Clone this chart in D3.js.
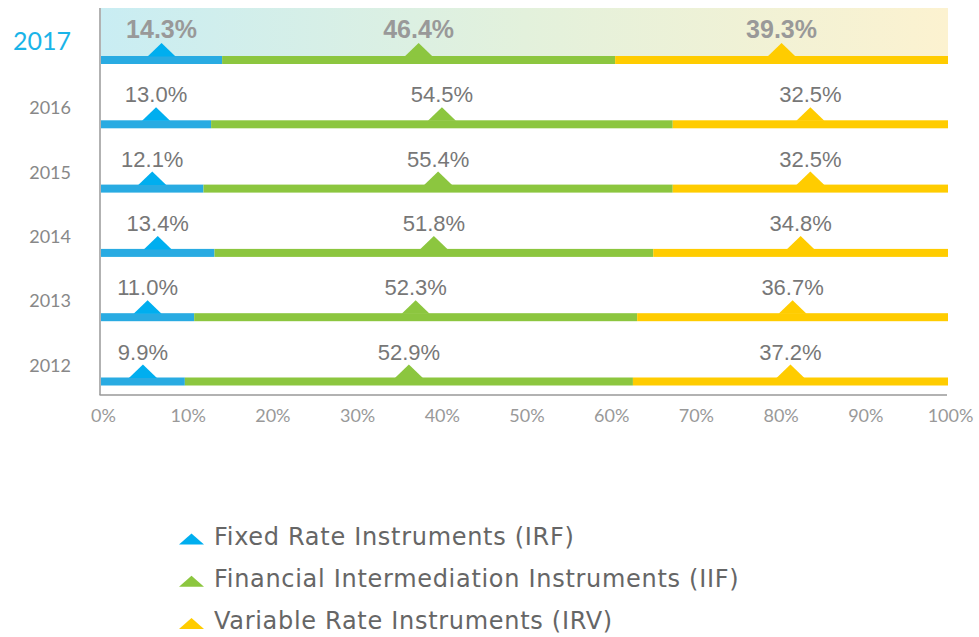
<!DOCTYPE html>
<html>
<head>
<meta charset="utf-8">
<script src="https://cdn.jsdelivr.net/npm/d3@7"></script>
<style>
  body { margin: 0; background: #fff; }
  svg { display: block; }
</style>
</head>
<body>
<div class="canvas"></div>
<script>
const years = ["2017", "2016", "2015", "2014", "2013", "2012"];
const irf = [14.3, 13.0, 12.1, 13.4, 11.0, 9.9];
const iif = [46.4, 54.5, 55.4, 51.8, 52.3, 52.9];
const irv = [39.3, 32.5, 32.5, 34.8, 36.7, 37.2];
const seriesNames = [
  "Fixed Rate Instruments (IRF)",
  "Financial Intermediation Instruments (IIF)",
  "Variable Rate Instruments (IRV)",
];
const ticks = [0, 10, 20, 30, 40, 50, 60, 70, 80, 90, 100];

const barColors = ["#29abe2", "#8cc63f", "#ffcc00"];
const triColors = ["#00aeef", "#8cc63f", "#ffcc00"];
const labelFont = "'Liberation Sans', Arial, sans-serif";
const gothic = "Lato, 'Noto Sans', sans-serif";
const legendFont = "'DejaVu Sans', sans-serif";

const width = 979, height = 637;
const svg = d3.select(".canvas").append("svg")
  .attr("width", width).attr("height", height);

const x = d3.scaleLinear().domain([0, 100]).range([101, 948]);
const y = d3.scalePoint().domain(years).range([60, 381.5]);
const barH = 8;

// rows: segments with start/end
const rows = years.map((yr, i) => {
  const vals = [irf[i], iif[i], irv[i]];
  let acc = 0;
  const segs = vals.map((v, k) => {
    const s = { year: yr, k: k, v: v, x0: acc, x1: acc + v };
    acc += v;
    return s;
  });
  return { year: yr, segs: segs, first: i === 0 };
});

// highlight band for latest year
const defs = svg.append("defs");
const grad = defs.append("linearGradient").attr("id", "band")
  .attr("x1", "0%").attr("x2", "100%").attr("y1", "0%").attr("y2", "0%");
grad.append("stop").attr("offset", "0%").attr("stop-color", "#c9edf3");
grad.append("stop").attr("offset", "50%").attr("stop-color", "#e3f1dc");
grad.append("stop").attr("offset", "100%").attr("stop-color", "#fcf2d0");

svg.append("rect")
  .attr("x", x(0)).attr("width", x(100) - x(0))
  .attr("y", 8).attr("height", y(years[0]) - barH / 2 - 8)
  .attr("fill", "url(#band)");

const g = svg.selectAll(".row").data(rows).join("g").attr("class", "row");

g.selectAll("rect.seg").data((d) => d.segs).join("rect")
  .attr("class", "seg")
  .attr("x", (d) => x(d.x0))
  .attr("width", (d) => x(d.x1) - x(d.x0))
  .attr("y", (d) => y(d.year) - barH / 2)
  .attr("height", barH)
  .attr("fill", (d) => barColors[d.k]);

g.selectAll("path.tri").data((d) => d.segs).join("path")
  .attr("class", "tri")
  .attr("d", (d) => {
    const cx = x((d.x0 + d.x1) / 2);
    const by = y(d.year) - barH / 2;
    return `M${cx - 14},${by + 0.5} L${cx},${by - 13} L${cx + 14},${by + 0.5} Z`;
  })
  .attr("fill", (d) => triColors[d.k]);

g.selectAll("text.val").data((d) => d.segs.map((s) => Object.assign({ first: d.first }, s))).join("text")
  .attr("class", "val")
  .attr("x", (d) => x((d.x0 + d.x1) / 2))
  .attr("y", (d) => y(d.year) - barH / 2 - 18)
  .attr("text-anchor", "middle")
  .style("font-family", labelFont)
  .style("font-size", (d) => (d.first ? "25px" : "22px"))
  .style("font-weight", (d) => (d.first ? 700 : 400))
  .attr("fill", (d) => (d.first ? "#999" : "#777"))
  .text((d) => d.v.toFixed(1) + "%");

// year labels
svg.selectAll("text.year").data(years).join("text")
  .attr("class", "year")
  .attr("x", 71)
  .attr("y", (d) => y(d) - 10)
  .attr("text-anchor", "end")
  .style("font-family", gothic)
  .style("font-size", (d, i) => (i === 0 ? "25px" : "18px"))
  .attr("fill", (d, i) => (i === 0 ? "#1ab4e8" : "#888"))
  .text((d) => d);

// axes
svg.append("line")
  .attr("x1", x(0) - 1).attr("x2", x(0) - 1).attr("y1", 8).attr("y2", 395)
  .attr("stroke", "#999").attr("stroke-width", 1.5);
svg.append("line")
  .attr("x1", x(0) - 1.5).attr("x2", x(100) - 1).attr("y1", 395).attr("y2", 395)
  .attr("stroke", "#999").attr("stroke-width", 1.5);

const xAxis = d3.axisBottom(x).tickValues(ticks).tickSize(0).tickPadding(0)
  .tickFormat((d) => d + "%");
const ax = svg.append("g").attr("transform", "translate(2,409)").call(xAxis);
ax.select(".domain").remove();
ax.selectAll("text")
  .style("font-family", gothic).style("font-size", "18px")
  .attr("fill", "#999");

// legend
const leg = svg.selectAll(".leg").data(seriesNames).join("g")
  .attr("class", "leg")
  .attr("transform", (d, i) => `translate(179,${544.5 + i * 42.3})`);
leg.append("path")
  .attr("d", "M0,0 L12.5,-11 L25,0 Z")
  .attr("fill", (d, i) => triColors[i]);
leg.append("text")
  .attr("x", 35).attr("y", 0)
  .style("font-family", legendFont).style("font-size", "24px")
  .style("letter-spacing", "0.7px")
  .attr("fill", "#666")
  .text((d) => d);
</script>
</body>
</html>
